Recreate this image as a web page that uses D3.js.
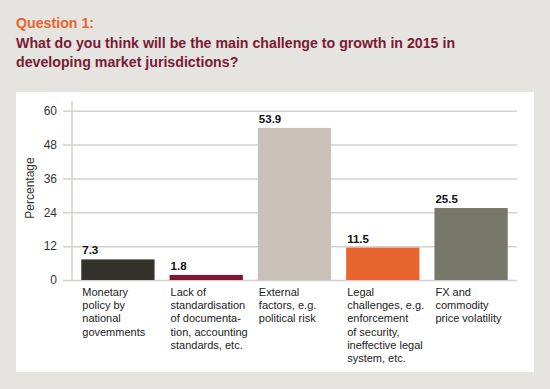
<!DOCTYPE html>
<meta charset="utf-8">
<style>
body { margin: 0; background: #e6e4e0; }
svg { display: block; font-family: "Liberation Sans", Arial, sans-serif; }
.title1 { fill: #e8632b; font-weight: bold; font-size: 14.2px; }
.title2 { fill: #7a1a35; font-weight: bold; font-size: 14.2px; }
.tick text { fill: #333; font-size: 12px; }
.cat { fill: #222; font-size: 11px; }
.val { fill: #111; font-size: 11.5px; font-weight: bold; }
</style>
<svg width="550" height="389"></svg>
<script src="https://d3js.org/d3.v7.min.js"></script>
<script>

var categories = ["Monetary", "Lack", "External", "Legal", "FX"];
var catLines = [
  ["Monetary", "policy by", "national", "govemments"],
  ["Lack of", "standardisation", "of documenta-", "tion, accounting", "standards, etc."],
  ["External", "factors, e.g.", "political risk"],
  ["Legal", "challenges, e.g.", "enforcement", "of security,", "ineffective legal", "system, etc."],
  ["FX and", "commodity", "price volatility"]
];
var values = [7.3, 1.8, 53.9, 11.5, 25.5];
var colors = ["#34332b", "#7b1832", "#c9c1b8", "#e8652f", "#77776a"];
var yTicks = [0, 12, 24, 36, 48, 60];

var svg = d3.select("svg");

// title
svg.append("text").attr("class", "title1").attr("x", 16).attr("y", 28).text("Question 1:");
svg.append("text").attr("class", "title2").attr("x", 16).attr("y", 48)
  .text("What do you think will be the main challenge to growth in 2015 in");
svg.append("text").attr("class", "title2").attr("x", 16).attr("y", 67)
  .text("developing market jurisdictions?");

// white panel
svg.append("rect").attr("x", 16).attr("y", 92).attr("width", 518).attr("height", 280).attr("fill", "#fff");

var x = d3.scaleBand().domain(categories).range([72, 517]).paddingInner(0.17).paddingOuter(0.105);
var y = d3.scaleLinear().domain([0, 60]).range([280, 110.7]);

// gridlines + ticks
var yAxis = svg.append("g").attr("transform", "translate(72,0)")
  .call(d3.axisLeft(y).tickValues(yTicks).tickSize(9).tickPadding(6));
yAxis.select(".domain").remove();
yAxis.selectAll(".tick line").attr("stroke", "#d6d2cd").attr("stroke-width", 1.5)
  .attr("x1", 445);
yAxis.selectAll(".tick text").attr("font-family", null).attr("font-size", null);

svg.append("line").attr("x1", 72).attr("x2", 72).attr("y1", 101).attr("y2", 280)
  .attr("stroke", "#d6d2cd").attr("stroke-width", 1.5);

svg.append("text").attr("transform", "translate(34,188) rotate(-90)")
  .attr("text-anchor", "middle").attr("font-size", 12).attr("fill", "#333").text("Percentage");

// bars
svg.selectAll(".bar").data(values).enter().append("rect")
  .attr("x", function(d, i) { return x(categories[i]); })
  .attr("y", function(d) { return y(d); })
  .attr("width", x.bandwidth())
  .attr("height", function(d) { return y(0) - y(d); })
  .attr("fill", function(d, i) { return colors[i]; });

svg.selectAll(".val").data(values).enter().append("text")
  .attr("class", "val")
  .attr("x", function(d, i) { return x(categories[i]) + 1; })
  .attr("y", function(d) { return y(d) - 5; })
  .text(function(d) { return d.toFixed(1); });

// category labels
var cats = svg.selectAll(".cat").data(catLines).enter().append("text")
  .attr("class", "cat")
  .attr("x", function(d, i) { return x(categories[i]) + 1; })
  .attr("y", 296);
cats.selectAll("tspan").data(function(d) { return d; }).enter().append("tspan")
  .attr("x", function() { return d3.select(this.parentNode).attr("x"); })
  .attr("dy", function(d, i) { return i ? 13.2 : 0; })
  .text(function(d) { return d; });

</script>
